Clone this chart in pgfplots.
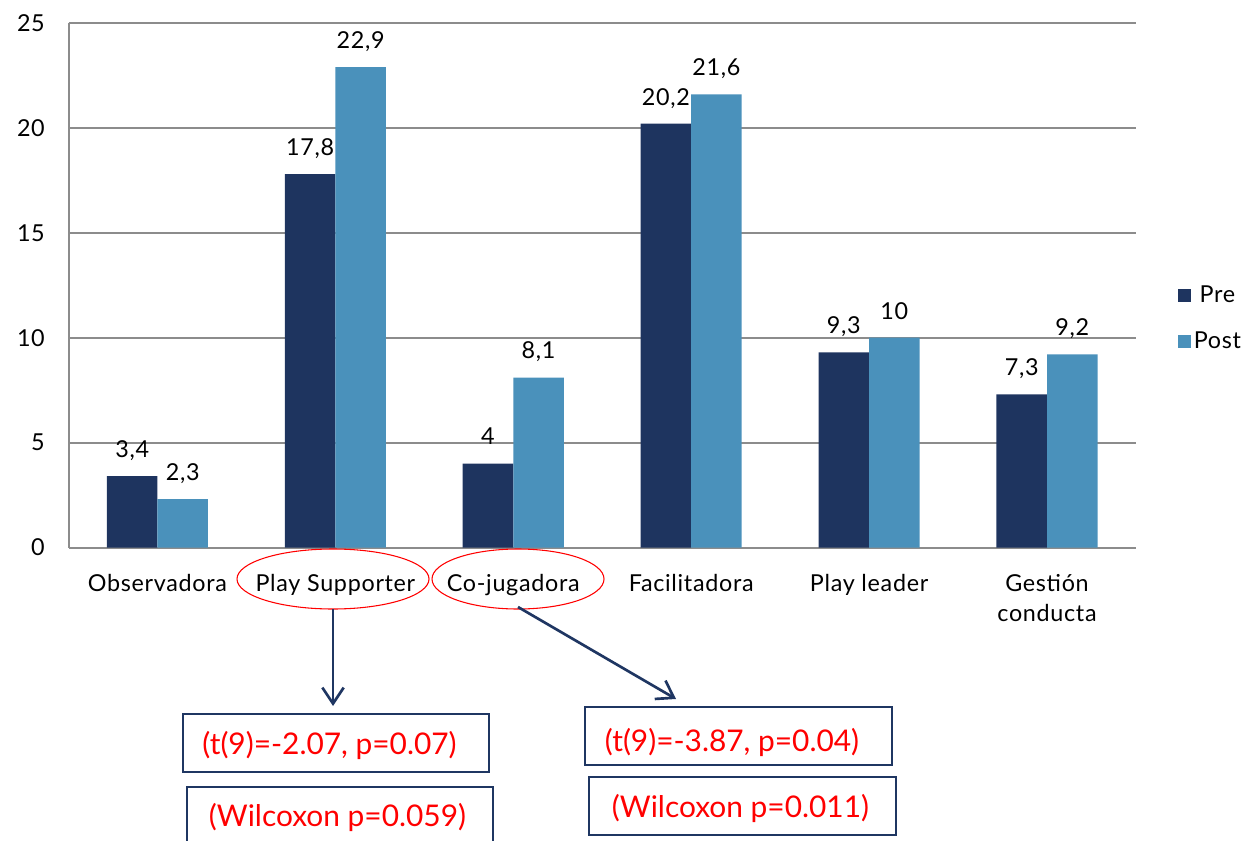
\documentclass[border=0pt]{standalone}
\usepackage{fontspec}
\setmainfont{Lato}
\usepackage{pgfplots}
\pgfplotsset{compat=1.18}
\usetikzlibrary{arrows.meta}

\definecolor{preblue}{RGB}{30,52,95}
\definecolor{postblue}{RGB}{74,145,187}
\definecolor{gridgray}{RGB}{140,140,140}
\definecolor{navyline}{RGB}{31,54,98}

\newcommand{\chartfont}{\fontsize{17.5}{22.5}\selectfont\addfontfeature{LetterSpace=3}}
\newcommand{\notefont}{\fontsize{22.4}{26}\selectfont}

\begin{document}
\begin{tikzpicture}[x=0.75pt,y=-0.75pt]
\path[use as bounding box] (0,0) rectangle (1248,841);

\begin{axis}[
  at={(51.375pt,-410.625pt)}, anchor=south west,
  scale only axis, width=800.6pt, height=393.4pt,
  ybar=0pt, bar width=37.9pt,
  ymin=0, ymax=25, ytick={0,5,...,25},
  xmin=-0.5, xmax=5.5, xtick={0,...,5},
  xticklabels={Observadora, Play Supporter, Co-jugadora, Facilitadora, Play leader, {Gestión\\conducta}},
  axis x line*=bottom, axis y line*=left,
  axis line style={draw=gridgray, line width=1.5pt, -},
  every outer x axis line/.append style={-},
  every outer y axis line/.append style={-},
  ymajorgrids, grid style={draw=gridgray, line width=1.5pt},
  major tick length=0pt,
  tick label style={font=\chartfont, text=black},
  xticklabel style={align=center, anchor=north, inner sep=0pt, yshift=-20pt},
  yticklabel style={anchor=east, inner sep=0pt, xshift=-17.6pt},
  /pgf/number format/assume math mode=true,
  /pgf/number format/use comma,
  /pgf/number format/fixed,
  /pgf/number format/precision=1,
  nodes near coords,
  every node near coord/.append style={font=\chartfont, text=black, anchor=base, inner sep=0pt, yshift=14pt},
  legend style={at={(1.0393,0.4366)}, anchor=west, draw=none, fill=none,
    font=\chartfont, row sep=16.5pt, inner sep=0pt,
    nodes={inner sep=2pt}},
  legend image code/.code={\fill[#1] (0pt,-4.9pt) rectangle (9.75pt,4.9pt);},
]
% Pre scores per role
\addplot[fill=preblue, draw=none,
  legend image code/.code={\fill[preblue] (0pt,-4.9pt) rectangle (9.75pt,4.9pt);}]
  coordinates {(0,3.4) (1,17.8) (2,4) (3,20.2) (4,9.3) (5,7.3)};
% Post scores per role
\addplot[fill=postblue, draw=none,
  legend image code/.code={\fill[postblue] (0pt,-4.9pt) rectangle (9.75pt,4.9pt);}]
  coordinates {(0,2.3) (1,22.9) (2,8.1) (3,21.6) (4,10) (5,9.2)};
\legend{Pre, Post}
\end{axis}

% highlighted roles
\draw[red, line width=0.8pt] (333,579) ellipse [x radius=72pt, y radius=22.5pt];
\draw[red, line width=0.8pt] (518,579) ellipse [x radius=64.5pt, y radius=22.5pt];

% arrows to the test results
\draw[navyline, line width=2pt, -{Straight Barb[length=12pt, width=16pt]}] (333,609) -- (333,706);
\draw[navyline, line width=2pt, -{Straight Barb[length=12pt, width=16pt]}] (518,607) -- (676,699);

% result boxes
\draw[navyline, line width=1.5pt] (182.7,714) rectangle (489.3,772);
\draw[navyline, line width=1.5pt] (187,786.7) rectangle (493,860);
\draw[navyline, line width=1.5pt] (585,707) rectangle (892,765);
\draw[navyline, line width=1.5pt] (589,777) rectangle (896,835);

\node[text=red, font=\notefont, inner sep=0pt] at (329.5,745.7) {(t(9)=-2.07, p=0.07)};
\node[text=red, font=\notefont, inner sep=0pt] at (337.5,817) {(Wilcoxon p=0.059)};
\node[text=red, font=\notefont, inner sep=0pt] at (732,742) {(t(9)=-3.87, p=0.04)};
\node[text=red, font=\notefont, inner sep=0pt] at (740.5,808) {(Wilcoxon p=0.011)};
\end{tikzpicture}
\end{document}
